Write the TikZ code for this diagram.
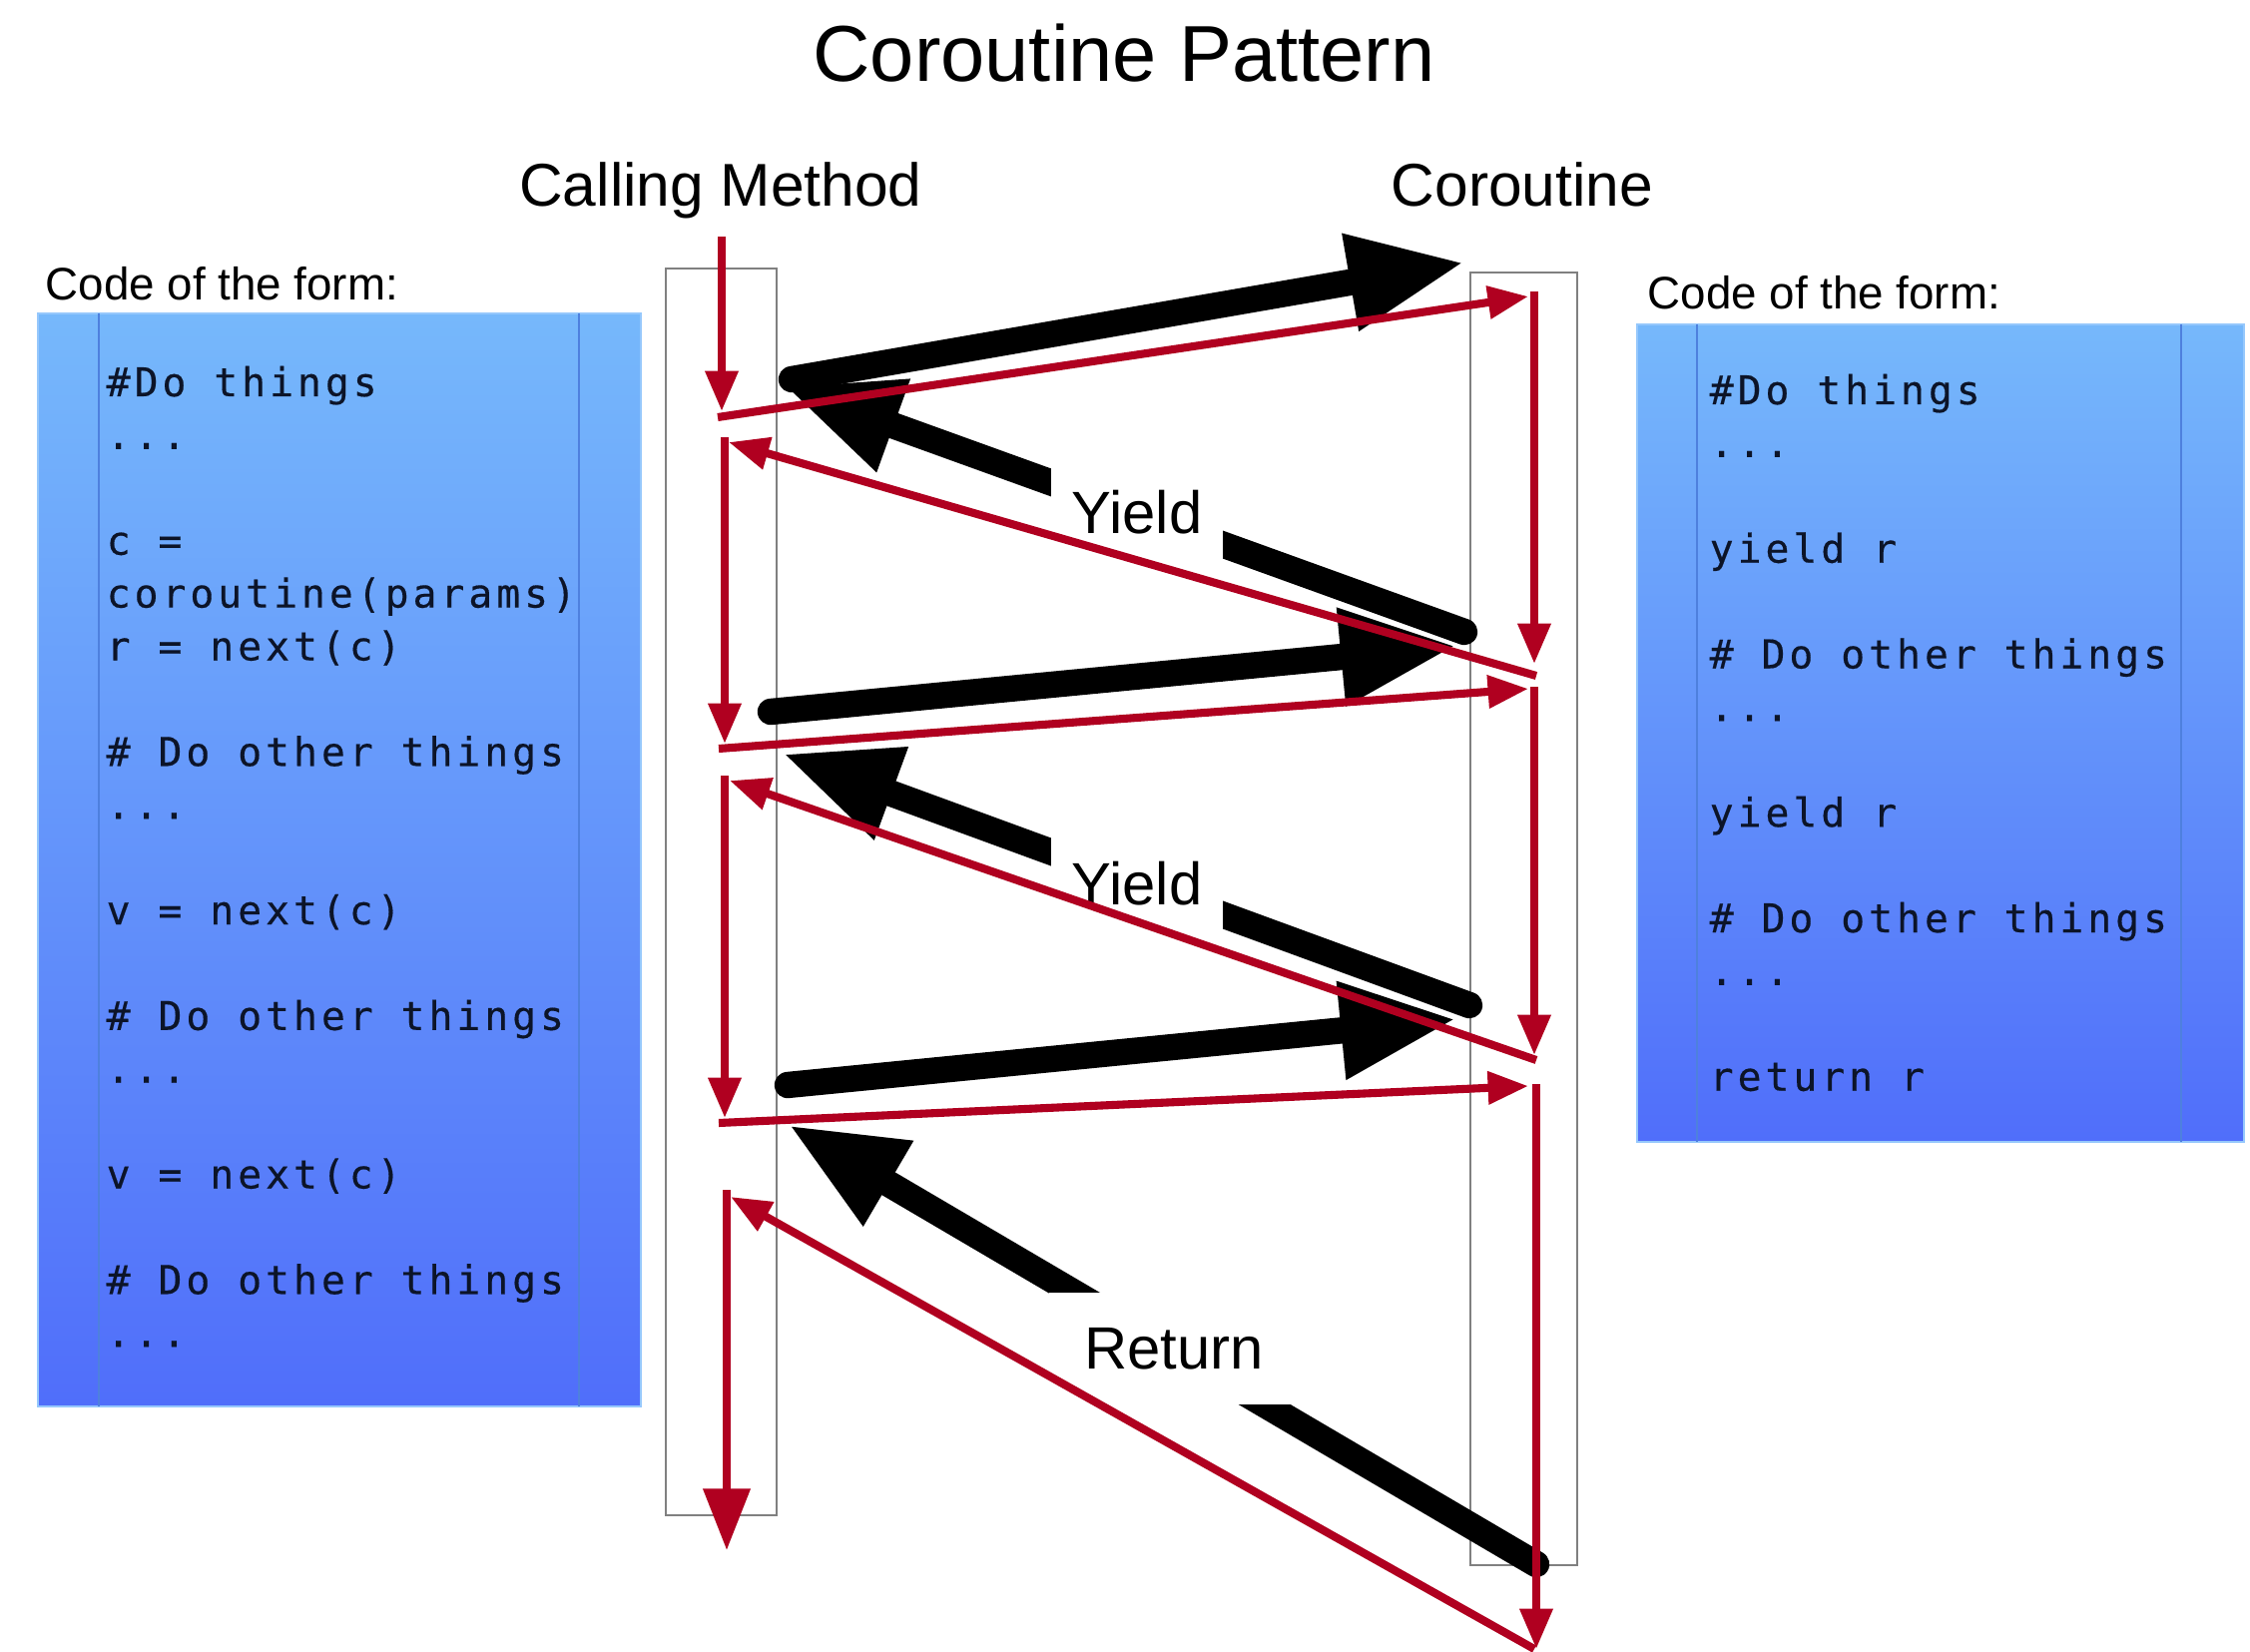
\documentclass[tikz,border=0pt]{standalone}
\usepackage{fontspec}
\setmainfont{Liberation Sans}
\newfontfamily\codefont[LetterSpace=10,FakeBold=0.4]{DejaVu Sans Mono}
\usetikzlibrary{arrows.meta}
\definecolor{redarrow}{RGB}{176,0,32}
\definecolor{boxtop}{RGB}{118,184,251}
\definecolor{boxbot}{RGB}{80,110,250}
\definecolor{divider}{RGB}{78,128,222}
\definecolor{boxedge}{RGB}{150,200,252}
\definecolor{codeink}{RGB}{12,20,40}
\begin{document}
\begin{tikzpicture}[x=0.01cm,y=-0.01cm,
  redarr/.style={draw=redarrow, line width=2.3pt, -{Triangle[length=11.5pt,width=9pt]}},
  redbig/.style={draw=redarrow, line width=2.3pt, -{Triangle[length=17.5pt,width=13pt]}},
  blackarr/.style={draw=black, line width=7.5pt, line cap=round, -{Triangle[length=33pt,width=26pt]}},
  lifeline/.style={draw=gray, line width=0.7pt},
  codebox/.style={top color=boxtop, bottom color=boxbot, draw=boxedge, line width=0.6pt},
  divline/.style={draw=divider, line width=0.5pt},
  codetext/.style={anchor=base west, inner sep=0pt, text=codeink, font=\codefont\fontsize{11.3}{15}\selectfont},
  arrlabel/.style={fill=white, font=\fontsize{17}{20}\selectfont, inner sep=0pt},
  header/.style={anchor=base, inner sep=0pt, font=\fontsize{17.2}{20}\selectfont},
  formlabel/.style={anchor=base west, inner sep=0pt, font=\fontsize{13}{15}\selectfont},
  titlestyle/.style={anchor=base, inner sep=0pt, font=\fontsize{22.6}{26}\selectfont}
]
\useasboundingbox (0,0) rectangle (2254,1655);
\fill[white] (0,0) rectangle (2254,1655);

% titles
\node[titlestyle] (title) at (1126,82) {Coroutine Pattern};
\node[header] (callhead) at (722,207) {Calling Method};
\node[header] (corohead) at (1525,207) {Coroutine};
\node[formlabel] (formL) at (45,301) {Code of the form:};
\node[formlabel] (formR) at (1650,310) {Code of the form:};

% lifelines
\path[lifeline] (667,269) rectangle (778,1518);
\path[lifeline] (1473,273) rectangle (1580,1568);

% code boxes
\path[codebox] (38,314) rectangle (642,1409);
\draw[divline] (99,314) -- (99,1409);
\draw[divline] (580,314) -- (580,1409);
\path[codebox] (1640,325) rectangle (2248,1144);
\draw[divline] (1700,325) -- (1700,1144);
\draw[divline] (2185,325) -- (2185,1144);

\node[codetext] (lc0)  at (106,397.0)  {\#Do things};
\node[codetext] (lc1)  at (106,449.9)  {...};
\node[codetext] (lc3)  at (106,555.7)  {c =};
\node[codetext] (lc4)  at (106,608.6)  {coroutine(params)};
\node[codetext] (lc5)  at (106,661.5)  {r = next(c)};
\node[codetext] (lc7)  at (106,767.3)  {\# Do other things};
\node[codetext] (lc8)  at (106,820.2)  {...};
\node[codetext] (lc10) at (106,926.0)  {v = next(c)};
\node[codetext] (lc12) at (106,1031.8) {\# Do other things};
\node[codetext] (lc13) at (106,1084.7) {...};
\node[codetext] (lc15) at (106,1190.5) {v = next(c)};
\node[codetext] (lc17) at (106,1296.3) {\# Do other things};
\node[codetext] (lc18) at (106,1349.2) {...};

\node[codetext] (rc0)  at (1712,405.0)  {\#Do things};
\node[codetext] (rc1)  at (1712,457.9)  {...};
\node[codetext] (rc3)  at (1712,563.7)  {yield r};
\node[codetext] (rc5)  at (1712,669.5)  {\# Do other things};
\node[codetext] (rc6)  at (1712,722.4)  {...};
\node[codetext] (rc8)  at (1712,828.2)  {yield r};
\node[codetext] (rc10) at (1712,934.0)  {\# Do other things};
\node[codetext] (rc11) at (1712,986.9)  {...};
\node[codetext] (rc13) at (1712,1092.7) {return r};

% black arrow coordinates
\coordinate (a1) at (793,380);   \coordinate (a2) at (1467,263);
\coordinate (b1) at (1467,633);  \coordinate (b2) at (786,387);
\coordinate (c1) at (772,713);   \coordinate (c2) at (1459,647);
\coordinate (d1) at (1472,1007); \coordinate (d2) at (784,755);
\coordinate (e1) at (789,1087);  \coordinate (e2) at (1459,1021);
\coordinate (f1) at (1539,1567); \coordinate (f2) at (790,1127);

\draw[blackarr] (a1) -- (a2);
\draw[blackarr] (b1) -- (b2);
\draw[blackarr] (c1) -- (c2);
\draw[blackarr] (d1) -- (d2);
\draw[blackarr] (e1) -- (e2);
\draw[blackarr] (f1) -- (f2);

\node[arrlabel, minimum width=49pt, minimum height=30pt] (yield1) at (1139,513) {Yield};
\node[arrlabel, minimum width=49pt, minimum height=30pt] (yield2) at (1139,885) {Yield};
\node[arrlabel, minimum width=71pt, minimum height=32pt] (ret) at (1176,1351) {Return};

% red flow coordinates
\coordinate (r0) at (723,237);   \coordinate (r1) at (723,412);
\coordinate (r2) at (719,418);   \coordinate (r3) at (1531,297);
\coordinate (r4) at (1537,292);  \coordinate (r5) at (1537,665);
\coordinate (r6) at (1539,677);  \coordinate (r7) at (730,443);
\coordinate (r8) at (726,438);   \coordinate (r9) at (726,745);
\coordinate (r10) at (720,750);  \coordinate (r11) at (1531,690);
\coordinate (r12) at (1537,688); \coordinate (r13) at (1537,1057);
\coordinate (r14) at (1539,1062);\coordinate (r15) at (731,782);
\coordinate (r16) at (726,777);  \coordinate (r17) at (726,1120);
\coordinate (r18) at (720,1125); \coordinate (r19) at (1531,1088);
\coordinate (r20) at (1539,1086);\coordinate (r21) at (1539,1652);
\coordinate (r22) at (1537,1652);\coordinate (r23) at (732,1199);
\coordinate (r24) at (728,1192); \coordinate (r25) at (728,1553);

\draw[redarr] (r0) -- (r1);
\draw[redarr] (r2) -- (r3);
\draw[redarr] (r4) -- (r5);
\draw[redarr] (r6) -- (r7);
\draw[redarr] (r8) -- (r9);
\draw[redarr] (r10) -- (r11);
\draw[redarr] (r12) -- (r13);
\draw[redarr] (r14) -- (r15);
\draw[redarr] (r16) -- (r17);
\draw[redarr] (r18) -- (r19);
\draw[redarr] (r20) -- (r21);
\draw[redarr] (r22) -- (r23);
\draw[redbig] (r24) -- (r25);
\end{tikzpicture}
\end{document}
